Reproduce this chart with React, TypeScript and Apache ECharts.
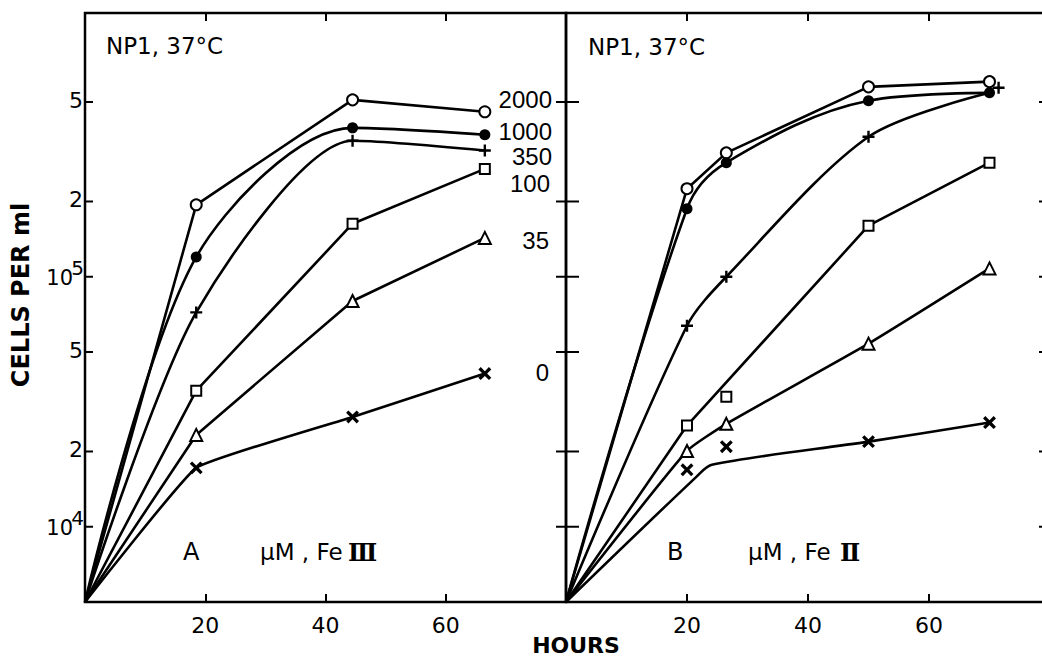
import React, { useEffect, useRef } from "react";
import * as echarts from "echarts";

// ---------- data ----------
const START: [number, number] = [0, 5000]; // inoculum at 0 h (cells per ml)

// Panel A: µM Fe III
const HOURS_A = [18.5, 44.5, 66.5];
const A_2000 = [1.94e5, 5.1e5, 4.57e5];
const A_1000 = [1.2e5, 3.94e5, 3.7e5];
const A_350 = [7.2e4, 3.5e5, 3.2e5];
const A_100 = [3.5e4, 1.63e5, 2.7e5];
const A_35 = [2.33e4, 8.0e4, 1.43e5];
const A_0 = [1.72e4, 2.75e4, 4.1e4];

// Panel B: µM Fe II
const HOURS_B = [20, 26.5, 50, 70];
const HOURS_B_350 = [20, 26.5, 50, 71.5];
const B_2000 = [2.25e5, 3.13e5, 5.75e5, 6.03e5];
const B_1000 = [1.87e5, 2.86e5, 5.06e5, 5.44e5];
const B_350 = [6.37e4, 1.0e5, 3.63e5, 5.7e5];
const B_100 = [2.54e4, 3.31e4, 1.6e5, 2.86e5];
const B_35 = [2.01e4, 2.58e4, 5.4e4, 1.08e5];
const B_0 = [1.69e4, 2.09e4, 2.19e4, 2.61e4];

// hand-drawn fitted curves where they leave the plotted points
const CURVE_B_350: [number, number][] = [[20, 6.37e4], [26.5, 1.0e5], [50, 3.63e5], [70, 5.44e5]];
const CURVE_B_100: [number, number][] = [[20, 2.54e4], [50, 1.6e5], [70, 2.86e5]];
const CURVE_B_0: [number, number][] = [[21.5, 1.58e4], [24.1, 1.77e4], [50, 2.19e4], [70, 2.61e4]];

const Y_TICKS = [1e4, 2e4, 5e4, 1e5, 2e5, 5e5];
const Y_TICK_LABELS = ["10^4", "2", "5", "10^5", "2", "5"];
const X_TICK_LABELS = [20, 40, 60];
const CONC_LABELS = ["2000", "1000", "350", "100", "35", "0"];

// ---------- layout ----------
const CONC_POS: [number, number][] = [[552, 99], [552, 131], [552, 156], [550, 183], [549, 240], [549, 372]];
const FONT = "DejaVu Sans";
const PLUS = "path://M4,0H6V4H10V6H6V10H4V6H0V4H4Z";
const XMARK = "path://M3.9,0H6.1V3.9H10V6.1H6.1V10H3.9V6.1H0V3.9H3.9Z";

type Mk = { symbol: string; size: number; fill: string; border: number; rotate?: number };
const MK_OPEN: Mk = { symbol: "circle", size: 11, fill: "#fff", border: 2 };
const MK_FILL: Mk = { symbol: "circle", size: 11, fill: "#000", border: 0 };
const MK_PLUS: Mk = { symbol: PLUS, size: 12, fill: "#000", border: 0 };
const MK_SQ: Mk = { symbol: "rect", size: 10, fill: "#fff", border: 2 };
const MK_TRI: Mk = { symbol: "triangle", size: 12, fill: "#fff", border: 2 };
const MK_X: Mk = { symbol: XMARK, size: 15, fill: "#000", border: 0, rotate: 45 };

function pairs(h: number[], v: number[]): [number, number][] {
  return h.map((x, i) => [x, v[i]]);
}

function makeSeries(
  panel: number,
  hours: number[],
  values: number[],
  mk: Mk,
  smooth: number,
  curve?: [number, number][]
) {
  const pts = pairs(hours, values);
  const line = {
    type: "line",
    xAxisIndex: panel === 0 ? 0 : 2,
    yAxisIndex: panel,
    data: [START, ...(curve ?? pts)],
    showSymbol: false,
    symbol: "none",
    smooth,
    silent: true,
    z: 2,
    lineStyle: { color: "#000", width: 2.6 },
  };
  const scatter = {
    type: "scatter",
    xAxisIndex: panel === 0 ? 0 : 2,
    yAxisIndex: panel,
    data: pts,
    symbol: mk.symbol,
    symbolSize: mk.size,
    symbolRotate: mk.rotate ?? 0,
    silent: true,
    z: 3,
    itemStyle: { color: mk.fill, borderColor: "#000", borderWidth: mk.border, opacity: 1 },
  };
  return [line, scatter];
}

function tickSeries(panel: number) {
  return {
    type: "custom",
    xAxisIndex: panel === 0 ? 0 : 2,
    yAxisIndex: panel,
    silent: true,
    z: 5,
    data: Y_TICKS.map((v, i) => [0, v, i]),
    renderItem: (_p: any, api: any) => {
      const v = api.value(1);
      const i = api.value(2);
      const pL = api.coord([0, v]);
      const pR = api.coord([80, v]);
      const ls = { stroke: "#000", lineWidth: 2 };
      const children: any[] = [];
      if (panel === 0) {
        children.push({ type: "line", shape: { x1: pL[0], y1: pL[1], x2: pL[0] + 8, y2: pL[1] }, style: ls });
        children.push({ type: "line", shape: { x1: pR[0] - 10, y1: pR[1], x2: pR[0], y2: pR[1] }, style: ls });
        const lab = Y_TICK_LABELS[i];
        const ts = { fill: "#000", fontSize: 22, fontFamily: FONT, align: "right", verticalAlign: "middle" };
        if (lab.indexOf("^") >= 0) {
          const [b, e] = lab.split("^");
          children.push({ type: "text", x: pL[0] - 12, y: pL[1] + 1, style: { ...ts, text: b, fontSize: 21 } });
          children.push({ type: "text", x: pL[0] - 1, y: pL[1] - 9, style: { ...ts, text: e, fontSize: 20 } });
        } else {
          children.push({ type: "text", x: pL[0] - 2, y: pL[1] - 2, style: { ...ts, text: lab } });
        }
      } else {
        children.push({ type: "line", shape: { x1: pL[0], y1: pL[1], x2: pL[0] + 13, y2: pL[1] }, style: ls });
        children.push({ type: "line", shape: { x1: pR[0] - 11, y1: pR[1], x2: pR[0], y2: pR[1] }, style: ls });
      }
      return { type: "group", children };
    },
  };
}

function xAxis(grid: number, position: "top" | "bottom") {
  return {
    gridIndex: grid,
    type: "value",
    min: 0,
    max: 80,
    interval: 20,
    position,
    axisLine: { show: false },
    axisTick: { show: true, inside: true, length: 8, lineStyle: { color: "#000", width: 2 } },
    axisLabel: {
      show: position === "bottom",
      color: "#000",
      fontSize: 22,
      fontFamily: FONT,
      margin: 12,
      formatter: (v: number) => (X_TICK_LABELS.indexOf(v) >= 0 ? String(v) : ""),
    },
    splitLine: { show: false },
  };
}

function yAxis(grid: number) {
  return {
    gridIndex: grid,
    type: "log",
    logBase: 10,
    min: 5000,
    max: 1135000,
    axisLine: { show: false },
    axisTick: { show: false },
    axisLabel: { show: false },
    splitLine: { show: false },
  };
}

function text(x: number, y: number, t: string, extra: any = {}) {
  return {
    type: "text",
    x,
    y,
    silent: true,
    style: {
      text: t,
      fill: "#000",
      fontSize: 22,
      fontFamily: FONT,
      align: "left",
      verticalAlign: "middle",
      ...extra,
    },
  };
}

export default function App() {
  const ref = useRef<HTMLDivElement>(null);
  useEffect(() => {
    if (!ref.current) return;
    const chart = echarts.init(ref.current, undefined, { renderer: "svg" });
    const series: any[] = [
      ...makeSeries(0, HOURS_A, A_2000, MK_OPEN, 0),
      ...makeSeries(0, HOURS_A, A_1000, MK_FILL, 0.3),
      ...makeSeries(0, HOURS_A, A_350, MK_PLUS, 0.25),
      ...makeSeries(0, HOURS_A, A_100, MK_SQ, 0),
      ...makeSeries(0, HOURS_A, A_35, MK_TRI, 0),
      ...makeSeries(0, HOURS_A, A_0, MK_X, 0.1),
      ...makeSeries(1, HOURS_B, B_2000, MK_OPEN, 0),
      ...makeSeries(1, HOURS_B, B_1000, MK_FILL, 0.35),
      ...makeSeries(1, HOURS_B_350, B_350, MK_PLUS, 0.3, CURVE_B_350),
      ...makeSeries(1, HOURS_B, B_100, MK_SQ, 0, CURVE_B_100),
      ...makeSeries(1, HOURS_B, B_35, MK_TRI, 0.15),
      ...makeSeries(1, HOURS_B, B_0, MK_X, 0.3, CURVE_B_0),
      tickSeries(0),
      tickSeries(1),
    ];
    const graphic: any[] = [
      text(106, 46, "NP1, 37°C", { fontSize: 23 }),
      text(588, 47, "NP1, 37°C", { fontSize: 23 }),
      text(183, 552, "A", { fontSize: 24 }),
      text(260, 552, "µM , Fe", { fontSize: 23 }),
      text(348, 552, "Ⅲ", { fontSize: 24, fontFamily: "DejaVu Serif", fontWeight: "bold" }),
      text(667, 552, "B", { fontSize: 24 }),
      text(748, 552, "µM , Fe", { fontSize: 23 }),
      text(840, 552, "Ⅱ", { fontSize: 24, fontFamily: "DejaVu Serif", fontWeight: "bold" }),
      text(576, 645, "HOURS", { align: "center", fontWeight: "bold", fontSize: 22 }),
      {
        type: "text",
        x: 21,
        y: 295,
        rotation: Math.PI / 2,
        silent: true,
        style: {
          text: "CELLS PER ml",
          fill: "#000",
          fontSize: 24,
          fontWeight: "bold",
          fontFamily: FONT,
          align: "center",
          verticalAlign: "middle",
        },
      },
      ...CONC_LABELS.map((t, i) =>
        text(CONC_POS[i][0], CONC_POS[i][1], t, {
          align: "right",
          fontSize: 24,
          lineHeight: 24,
          fontFamily: "Liberation Sans",
        })
      ),
    ];
    chart.setOption({
      animation: false,
      backgroundColor: "#fff",
      grid: [
        { left: 85, top: 13, width: 481, height: 589, show: true, borderColor: "#000", borderWidth: 2.5, backgroundColor: "transparent" },
        { left: 566, top: 13, width: 484, height: 589, show: true, borderColor: "#000", borderWidth: 2.5, backgroundColor: "transparent" },
      ],
      xAxis: [xAxis(0, "bottom"), xAxis(0, "top"), xAxis(1, "bottom"), xAxis(1, "top")],
      yAxis: [yAxis(0), yAxis(1)],
      series,
      graphic,
    });
    return () => chart.dispose();
  }, []);
  return (
    <div
      style={{ position: "fixed", left: 0, top: 0, width: 1042, height: 657, overflow: "hidden", background: "#fff" }}
    >
      <div ref={ref} style={{ width: 1060, height: 657 }} />
    </div>
  );
}
